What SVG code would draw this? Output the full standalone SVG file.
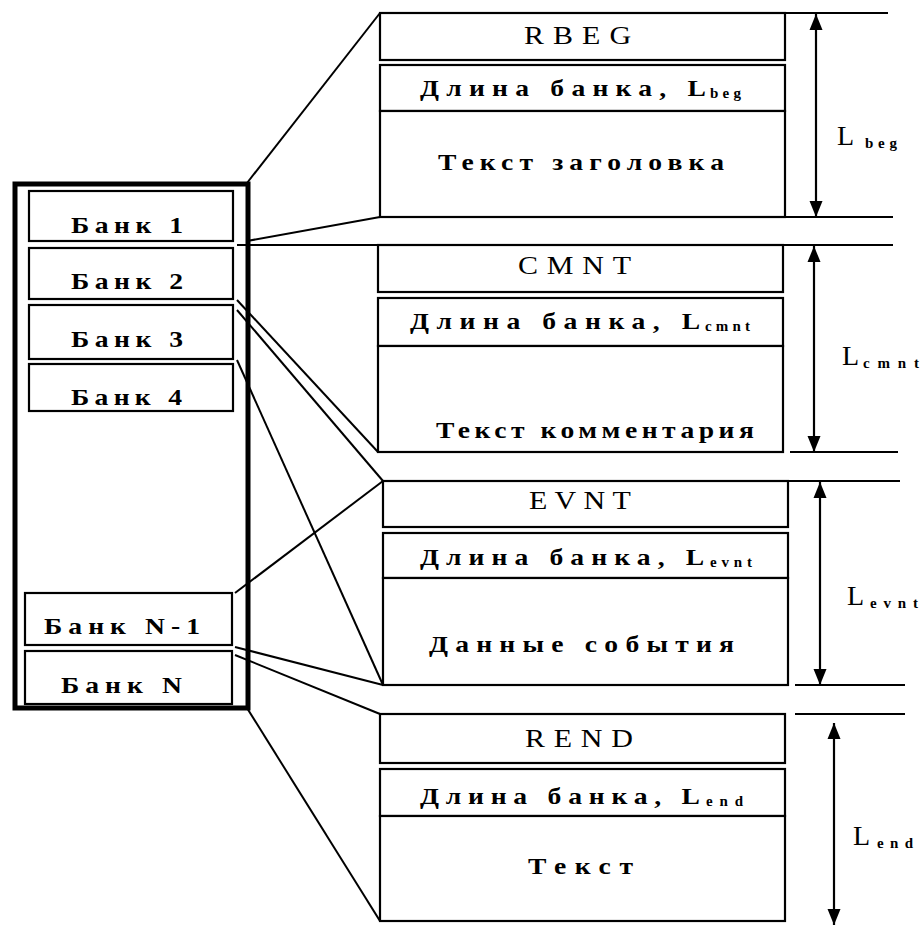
<svg xmlns="http://www.w3.org/2000/svg" width="922" height="925" viewBox="0 0 922 925">
<defs>
<marker id="ah" markerUnits="userSpaceOnUse" markerWidth="16" markerHeight="14" refX="16" refY="7" orient="auto-start-reverse"><path d="M0,0.5 L16,7 L0,13.5 z" fill="#000"/></marker>
<style>
.box{fill:#fff;stroke:#000;stroke-width:2.2}
.ln{stroke:#000;stroke-width:2;fill:none}
.dim{stroke:#000;stroke-width:2.2;fill:none;marker-start:url(#ah);marker-end:url(#ah)}
text{font-family:"Liberation Serif","Times New Roman",serif;fill:#000}
.t{font-size:23px;font-weight:bold}
.h{font-size:25px}
.l{font-size:28px}
.s{font-size:15px;font-weight:bold}
</style>
</defs>
<rect width="922" height="925" fill="#fff"/>

<g id="bank-stack"><rect x="15" y="184" width="233" height="524" fill="#fff" stroke="#000" stroke-width="5"/></g>
<g id="bank1"><rect class="box" x="29" y="191" width="204" height="50"/><text class="t" transform="scale(1.2,1)" x="59.2" y="233" textLength="93.3">Банк 1</text></g>
<g id="bank2"><rect class="box" x="29" y="248" width="204" height="51"/><text class="t" transform="scale(1.2,1)" x="59.2" y="289" textLength="93.3">Банк 2</text></g>
<g id="bank3"><rect class="box" x="29" y="305" width="204" height="54"/><text class="t" transform="scale(1.2,1)" x="59.2" y="347" textLength="93.3">Банк 3</text></g>
<g id="bank4"><rect class="box" x="29" y="364" width="204" height="47"/><text class="t" transform="scale(1.2,1)" x="59.2" y="405" textLength="92.5">Банк 4</text></g>
<g id="bankN-1"><rect class="box" x="25" y="593" width="207" height="52"/><text class="t" transform="scale(1.2,1)" x="36.7" y="634" textLength="130">Банк N-1</text></g>
<g id="bankN"><rect class="box" x="25" y="651" width="207" height="53"/><text class="t" transform="scale(1.2,1)" x="50.8" y="693" textLength="100.8">Банк N</text></g>

<g id="rbeg">
<rect class="box" x="380" y="13" width="405" height="47"/>
<rect class="box" x="380" y="65" width="405" height="46"/>
<rect class="box" x="380" y="111" width="405" height="106"/>
<text class="h" transform="scale(1.2,1)" x="436.7" y="44" textLength="89.2">RBEG</text>
<text class="t" transform="scale(1.2,1)" x="350" y="96" textLength="238.3">Длина банка, L</text>
<text class="s" x="710" y="98" textLength="31">beg</text>
<text class="t" transform="scale(1.2,1)" x="365" y="170" textLength="238.3">Текст заголовка</text>
</g>
<g id="cmnt">
<rect class="box" x="378" y="245" width="405" height="47"/>
<rect class="box" x="378" y="298" width="405" height="48"/>
<rect class="box" x="378" y="346" width="405" height="106"/>
<text class="h" transform="scale(1.2,1)" x="431.7" y="274" textLength="94.2">CMNT</text>
<text class="t" transform="scale(1.2,1)" x="341.7" y="329" textLength="241.7">Длина банка, L</text>
<text class="s" x="705" y="331" textLength="45">cmnt</text>
<text class="t" transform="scale(1.2,1)" x="363.3" y="438" textLength="265">Текст комментария</text>
</g>
<g id="evnt">
<rect class="box" x="383" y="481" width="405" height="46"/>
<rect class="box" x="383" y="533" width="405" height="45"/>
<rect class="box" x="383" y="578" width="405" height="107"/>
<text class="h" transform="scale(1.2,1)" x="440.8" y="509" textLength="85">EVNT</text>
<text class="t" transform="scale(1.2,1)" x="350" y="565" textLength="236.7">Длина банка, L</text>
<text class="s" x="710" y="567" textLength="42">evnt</text>
<text class="t" transform="scale(1.2,1)" x="357.5" y="652" textLength="254.2">Данные события</text>
</g>
<g id="rend">
<rect class="box" x="380" y="714" width="405" height="49"/>
<rect class="box" x="380" y="769" width="405" height="47"/>
<rect class="box" x="380" y="816" width="405" height="105"/>
<text class="h" transform="scale(1.2,1)" x="437.5" y="747" textLength="90">REND</text>
<text class="t" transform="scale(1.2,1)" x="350" y="804" textLength="233.3">Длина банка, L</text>
<text class="s" x="706" y="806" textLength="37">end</text>
<text class="t" transform="scale(1.2,1)" x="440" y="874" textLength="87.5">Текст</text>
</g>

<g id="connectors">
<line class="ln" x1="247" y1="183" x2="380" y2="13"/>
<line class="ln" x1="247" y1="241" x2="380" y2="217"/>
<line class="ln" x1="237" y1="245" x2="378" y2="245"/>
<line class="ln" x1="237" y1="300" x2="378" y2="452"/>
<line class="ln" x1="237" y1="310" x2="383" y2="481"/>
<line class="ln" x1="237" y1="360" x2="383" y2="685"/>
<line class="ln" x1="235" y1="593" x2="383" y2="481"/>
<line class="ln" x1="235" y1="647" x2="383" y2="685"/>
<line class="ln" x1="235" y1="655" x2="380" y2="714"/>
<line class="ln" x1="247" y1="708" x2="380" y2="921"/>
</g>

<g id="dimensions">
<line class="ln" x1="785" y1="13" x2="888" y2="13"/>
<line class="ln" x1="785" y1="217" x2="893" y2="217"/>
<line class="ln" x1="783" y1="245" x2="893" y2="245"/>
<line class="ln" x1="790" y1="452" x2="898" y2="452"/>
<line class="ln" x1="788" y1="481" x2="900" y2="481"/>
<line class="ln" x1="795" y1="685" x2="905" y2="685"/>
<line class="ln" x1="795" y1="714" x2="905" y2="714"/>
<line class="dim" x1="816" y1="14" x2="816" y2="217"/>
<line class="dim" x1="814" y1="246" x2="814" y2="452"/>
<line class="dim" x1="820" y1="482" x2="820" y2="685"/>
<line class="dim" x1="834" y1="723" x2="834" y2="925"/>
<text class="l" x="837" y="145">L</text><text class="s" x="865" y="148" textLength="32">beg</text>
<text class="l" x="842" y="365">L</text><text class="s" x="863" y="368" textLength="56">cmnt</text>
<text class="l" x="847" y="605">L</text><text class="s" x="870" y="608" textLength="48">evnt</text>
<text class="l" x="853" y="845">L</text><text class="s" x="877" y="848" textLength="36">end</text>
</g>
</svg>
